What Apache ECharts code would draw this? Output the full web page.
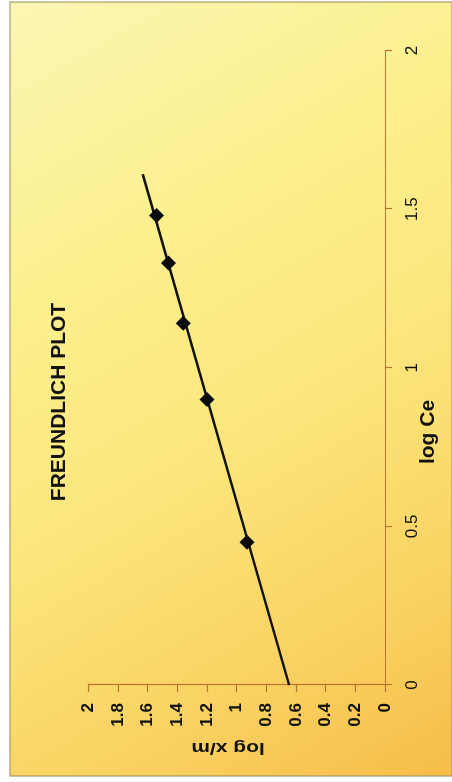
<!DOCTYPE html>
<html>
<head>
<meta charset="utf-8">
<title>Freundlich Plot</title>
<script src="https://cdn.jsdelivr.net/npm/echarts@6/dist/echarts.min.js"></script>
<style>
  html, body { margin: 0; padding: 0; background: #ffffff; overflow: hidden; }
  body { width: 452px; height: 782px; position: relative; }
  /* the chart is laid out landscape and turned a quarter turn counter-clockwise */
  #chart {
    position: absolute; left: 0; top: 0;
    width: 782px; height: 452px;
    transform-origin: 0 0;
    transform: translateY(782px) rotate(-90deg);
  }
</style>
</head>
<body>
<div id="chart"></div>
<script>
// measured isotherm points
const logCe = [0.45, 0.90, 1.14, 1.33, 1.48];
const logXm = [0.93, 1.20, 1.36, 1.46, 1.54];

// fitted linear trend line end points
const trendCe = [0, 1.61];
const trendXm = [0.646, 1.633];

// tick labels
const ceTickLabels = ['0', '0.5', '1', '1.5', '2'];
const xmTickLabels = ['0', '0.2', '0.4', '0.6', '0.8', '1', '1.2', '1.4', '1.6', '1.8', '2'];

const FONT = '"Liberation Sans", Arial, Helvetica, sans-serif';
const AXIS_COLOR = '#b8742e';

const chart = echarts.init(document.getElementById('chart'), null, { renderer: 'canvas' });

const points = logCe.map((c, i) => [c, logXm[i]]);
const trend = trendCe.map((c, i) => [c, trendXm[i]]);

chart.setOption({
  backgroundColor: 'transparent',
  animation: false,
  grid: { left: 97, right: 50.5, top: 88.3, bottom: 67, containLabel: false },
  xAxis: {
    type: 'value', min: 0, max: 2, interval: 0.5,
    axisLine: { show: true, lineStyle: { color: AXIS_COLOR, width: 1.2 } },
    axisTick: { show: true, inside: false, length: 7, lineStyle: { color: AXIS_COLOR, width: 1.2 } },
    splitLine: { show: false },
    axisLabel: {
      margin: 19, color: '#111', fontSize: 17, fontFamily: FONT,
      formatter: (v, i) => ceTickLabels[i]
    }
  },
  yAxis: {
    type: 'value', min: 0, max: 2, interval: 0.2,
    axisLine: { show: true, lineStyle: { color: AXIS_COLOR, width: 1.2 } },
    axisTick: { show: true, inside: false, length: 7, lineStyle: { color: AXIS_COLOR, width: 1.2 } },
    splitLine: { show: false },
    axisLabel: {
      margin: 18, color: '#111', fontSize: 17, fontWeight: 'bold', fontFamily: FONT,
      formatter: (v, i) => xmTickLabels[i]
    }
  },
  graphic: [
    {
      type: 'rect', z: -10, silent: true,
      shape: { x: 6, y: 10, width: 774, height: 442 },
      style: {
        fill: new echarts.graphic.LinearGradient(1, 0, 0, 1, [
          { offset: 0, color: '#fbf6b4' },
          { offset: 0.3, color: '#fcf08e' },
          { offset: 0.55, color: '#fce67c' },
          { offset: 0.8, color: '#f9d262' },
          { offset: 1, color: '#f6bd48' }
        ]),
        stroke: 'rgba(160,140,95,0.7)', lineWidth: 1.5
      }
    },
    {
      type: 'text', x: 380, y: 59.5, z: 5,
      style: { text: 'FREUNDLICH PLOT', font: 'bold 21px ' + FONT, fill: '#111', align: 'center', verticalAlign: 'middle' }
    },
    {
      type: 'text', x: 350, y: 428, z: 5,
      style: { text: 'log Ce', font: 'bold 21px ' + FONT, fill: '#111', align: 'center', verticalAlign: 'middle' }
    },
    {
      type: 'text', x: 34, y: 228, z: 5, rotation: Math.PI / 2, scaleY: 0.8,
      style: { text: 'log x/m', font: 'bold 21px ' + FONT, fill: '#111', align: 'center', verticalAlign: 'middle' }
    }
  ],
  series: [
    {
      name: 'trend', type: 'line', data: trend, z: 2,
      showSymbol: false, symbol: 'none',
      lineStyle: { color: '#111', width: 2.4 }
    },
    {
      name: 'data', type: 'scatter', data: points, z: 3,
      symbol: 'diamond', symbolSize: 15,
      itemStyle: { color: '#0a0a0a', opacity: 1 }
    }
  ]
});
</script>
</body>
</html>
